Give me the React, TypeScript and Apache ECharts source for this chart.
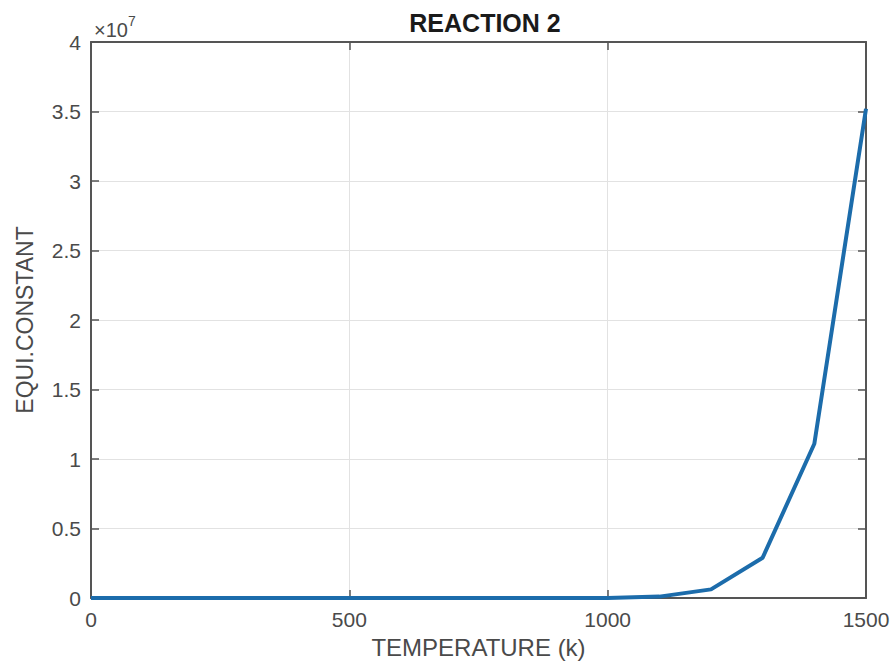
import React, { useEffect, useRef } from "react";
import * as echarts from "echarts";

const temperatures = [0, 100, 200, 300, 400, 500, 600, 700, 800, 900, 1000, 1100, 1200, 1300, 1400, 1500];
const equiConstant = [0, 0, 0, 0, 0, 0, 0, 0, 10, 300, 8000, 100000, 620000, 2900000, 11100000, 35200000];
const yTicks = ["0", "0.5", "1", "1.5", "2", "2.5", "3", "3.5", "4"];
const titleText = "REACTION 2";
const xName = "TEMPERATURE (k)";
const yName = "EQUI.CONSTANT";

export default function App() {
  const ref = useRef<HTMLDivElement>(null);
  useEffect(() => {
    const chart = echarts.init(ref.current!, undefined, { renderer: "svg" });
    const font = "'Liberation Sans', Arial, sans-serif";
    const axisColor = "#555555";
    const textColor = "#4a4a4a";
    const data = temperatures.map((t, i) => [t, equiConstant[i]]);
    const tick = { show: true, inside: true, length: 8, lineStyle: { color: axisColor, width: 1.5 } };
    const line = { show: true, onZero: false, lineStyle: { color: axisColor, width: 2 } };
    chart.setOption({
      animation: false,
      backgroundColor: "#ffffff",
      textStyle: { fontFamily: font },
      title: {
        text: titleText,
        left: 480,
        textAlign: "center",
        top: 5,
        textStyle: { fontSize: 25, fontWeight: "bold", color: "#1a1a1a", fontFamily: font },
      },
      grid: { left: 91, top: 42, right: 30, bottom: 70, containLabel: false },
      xAxis: [
        {
          type: "value",
          min: 0,
          max: 1500,
          interval: 500,
          position: "bottom",
          name: xName,
          nameLocation: "middle",
          nameGap: 37,
          nameTextStyle: { fontSize: 24, color: textColor, fontFamily: font },
          axisLine: line,
          axisTick: tick,
          axisLabel: { fontSize: 21, color: textColor, margin: 11, fontFamily: font, formatter: (v: number) => String(v) },
          splitLine: { show: true, lineStyle: { color: "#e2e2e2", width: 1 } },
        },
        {
          type: "value",
          min: 0,
          max: 1500,
          interval: 500,
          position: "top",
          axisLine: line,
          axisTick: tick,
          axisLabel: { show: false },
          splitLine: { show: false },
        },
      ],
      yAxis: [
        {
          type: "value",
          min: 0,
          max: 40000000,
          interval: 5000000,
          position: "left",
          name: yName,
          nameLocation: "middle",
          nameGap: 55,
          nameRotate: 90,
          nameTextStyle: { fontSize: 23, color: textColor, fontFamily: font },
          axisLine: line,
          axisTick: tick,
          axisLabel: {
            fontSize: 21,
            color: textColor,
            margin: 10,
            fontFamily: font,
            formatter: (v: number) => yTicks[Math.round(v / 5000000)] ?? "",
          },
          splitLine: { show: true, lineStyle: { color: "#e2e2e2", width: 1 } },
        },
        {
          type: "value",
          min: 0,
          max: 40000000,
          interval: 5000000,
          position: "right",
          axisLine: line,
          axisTick: tick,
          axisLabel: { show: false },
          splitLine: { show: false },
        },
      ],
      graphic: [
        {
          type: "text",
          left: 94,
          top: 14,
          style: {
            text: "{a|×10}{b|7}",
            rich: {
              a: { fontSize: 20, fill: textColor, fontFamily: font, verticalAlign: "bottom" },
              b: { fontSize: 14, fill: textColor, fontFamily: font, verticalAlign: "top", padding: [0, 0, 12, 0] },
            },
          },
        },
      ],
      series: [
        {
          type: "line",
          data,
          xAxisIndex: 0,
          yAxisIndex: 0,
          showSymbol: false,
          symbol: "none",
          lineStyle: { color: "#1c6cab", width: 4 },
          z: 3,
        },
      ],
    });
    return () => chart.dispose();
  }, []);
  return <div ref={ref} style={{ position: "absolute", left: 0, top: 0, width: 896, height: 668 }} />;
}
